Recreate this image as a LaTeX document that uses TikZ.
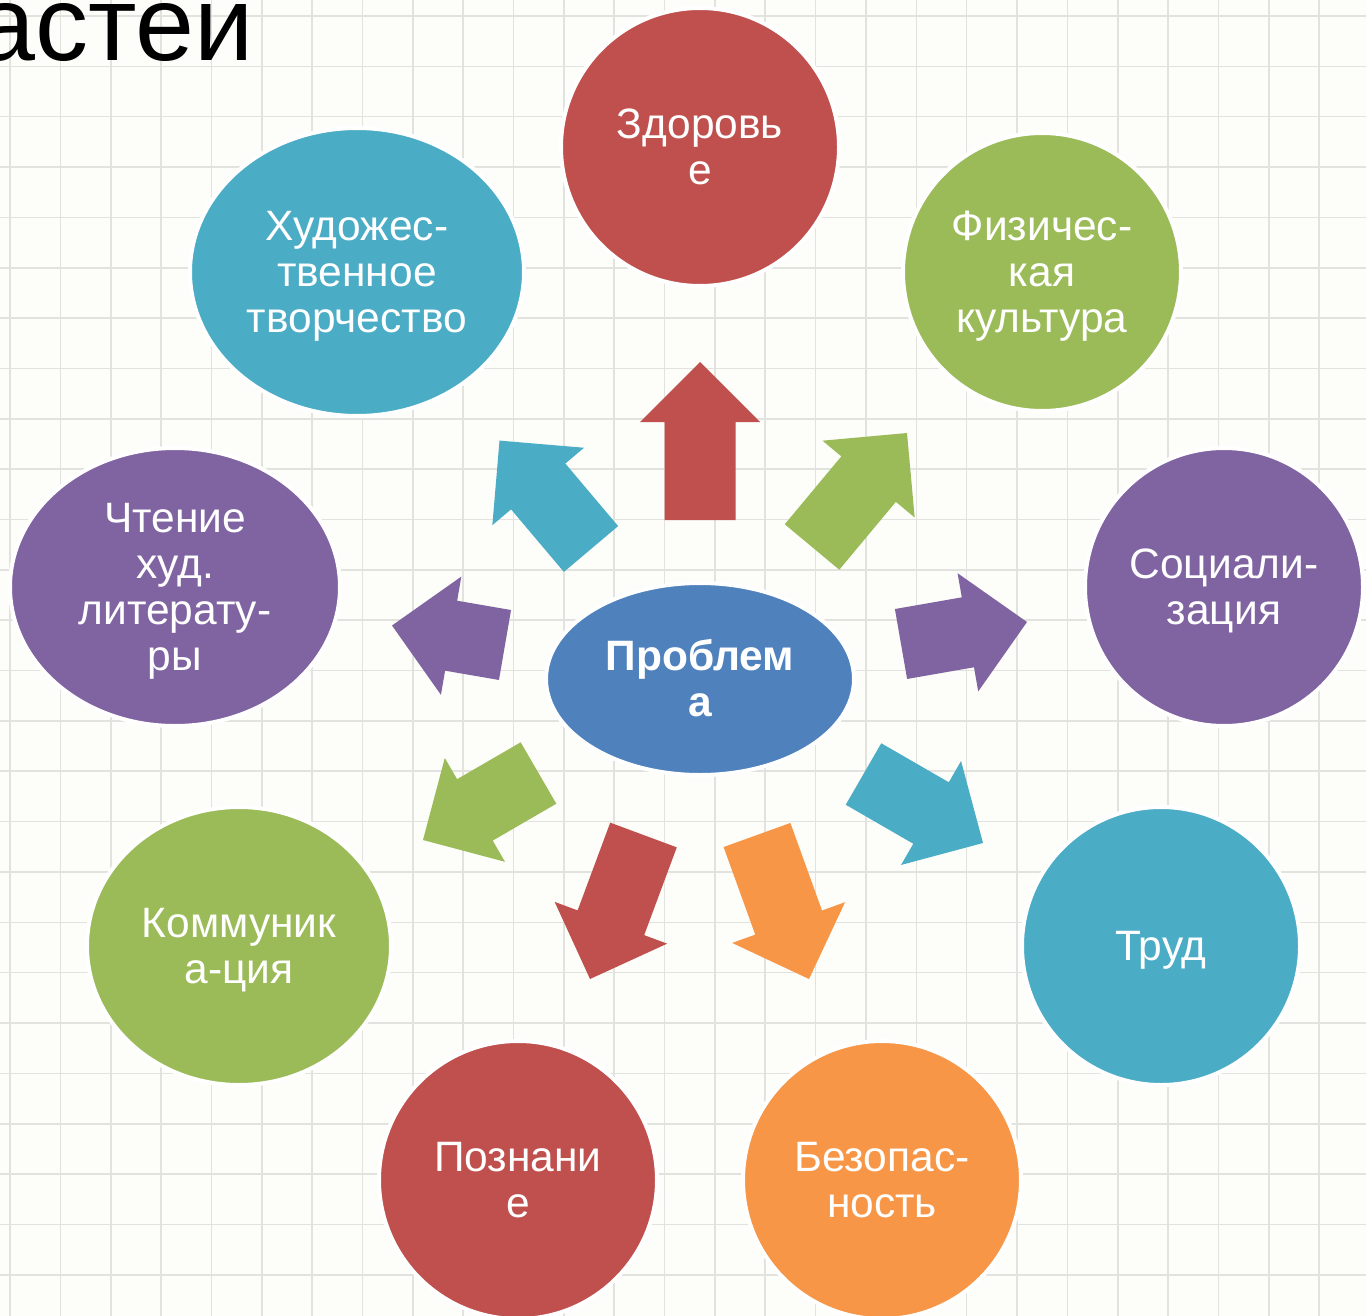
\documentclass[tikz,border=0pt]{standalone}
\usepackage{fontspec}
\setmainfont{Liberation Sans}
\usetikzlibrary{shapes.geometric,calc}
\definecolor{cred}{HTML}{C0504D}
\definecolor{cgreen}{HTML}{9BBB59}
\definecolor{cblue}{HTML}{4BACC6}
\definecolor{cpurple}{HTML}{8064A2}
\definecolor{corange}{HTML}{F79646}
\definecolor{ccenter}{HTML}{4F81BD}
\definecolor{bgcol}{HTML}{FDFDF9}
\definecolor{gridcol}{HTML}{E2E2DE}
\newcommand\mytop{\rule{0pt}{0.905em}}
\newcommand\mybot{\rule[-0.212em]{0pt}{0pt}}
\newcommand\blockarr[3]{%
  \coordinate (ab) at ($(#3)!60pt!(#2)$);
  \fill[#1] ($(#2)!35.5pt!90:(#3)$) -- ($(ab)!35.5pt!90:(#3)$) -- ($(ab)!60pt!90:(#3)$) -- (#3)
    -- ($(ab)!60pt!-90:(#3)$) -- ($(ab)!35.5pt!-90:(#3)$) -- ($(#2)!35.5pt!-90:(#3)$) -- cycle;
}
\begin{document}
\begin{tikzpicture}[x=1pt,y=-1pt,
  bubble/.style={ellipse, draw=white, line width=4pt, text=white, inner sep=0pt, align=center,
    font=\fontsize{42.5}{46}\selectfont},
  gridline/.style={draw=gridcol, line width=1.6pt}]
\useasboundingbox (0,0) rectangle (1366,1316);
\clip (0,0) rectangle (1366,1316);
\fill[bgcol] (0,0) rectangle (1366,1316);
\foreach \i in {0,...,27} \draw[gridline] ({10+50.35*\i},0) -- ({10+50.35*\i},1316);
\foreach \j in {0,...,26} \draw[gridline] (0,{16+50.35*\j}) -- (1366,{16+50.35*\j});
\node[anchor=base east, inner sep=0pt, font=\fontsize{106}{110}\selectfont] (title) at (254,61) {астеи};
% arrows
\coordinate (a1t) at (700,520);   \coordinate (a1p) at (700,362);
\coordinate (a2t) at (812,547);   \coordinate (a2p) at (907,433);
\coordinate (a3t) at (591,549);   \coordinate (a3p) at (499.5,440.6);
\coordinate (a4t) at (505,645);   \coordinate (a4p) at (392,625.5);
\coordinate (a5t) at (901,644);   \coordinate (a5p) at (1027,622);
\coordinate (a6t) at (538.5,773); \coordinate (a6p) at (423,840);
\coordinate (a7t) at (863.5,774); \coordinate (a7p) at (983,843);
\coordinate (a8t) at (643.5,835); \coordinate (a8p) at (590,979);
\coordinate (a9t) at (757,835);   \coordinate (a9p) at (809,979);
\blockarr{cred}{a1t}{a1p}
\blockarr{cgreen}{a2t}{a2p}
\blockarr{cblue}{a3t}{a3p}
\blockarr{cpurple}{a4t}{a4p}
\blockarr{cpurple}{a5t}{a5p}
\blockarr{cgreen}{a6t}{a6p}
\blockarr{cblue}{a7t}{a7p}
\blockarr{cred}{a8t}{a8p}
\blockarr{corange}{a9t}{a9p}
% bubbles
\node[bubble, fill=cred, minimum width=278, minimum height=278] (zdor) at (700,147) {\mytop Здоровь\\е\mybot};
\node[bubble, fill=cgreen, minimum width=278, minimum height=278] (fiz) at (1042,272) {\mytop Физичес-\\кая\\культура\mybot};
\node[bubble, fill=cblue, minimum width=334, minimum height=288] (hud) at (357,272) {\mytop Художес-\\твенное\\творчество\mybot};
\node[bubble, fill=cpurple, minimum width=330, minimum height=278] (cht) at (175,587) {\mytop Чтение\\худ.\\литерату-\\ры\mybot};
\node[bubble, fill=cpurple, minimum width=278, minimum height=278] (soc) at (1224,587) {\mytop Социали-\\зация\mybot};
\node[bubble, fill=cgreen, minimum width=304, minimum height=278] (kom) at (239,946) {\mytop Коммуник\\а-ция\mybot};
\node[bubble, fill=cblue, minimum width=278, minimum height=278] (trud) at (1161,946) {\mytop Труд\mybot};
\node[bubble, fill=cred, minimum width=278, minimum height=278] (pozn) at (518,1180) {\mytop Познани\\е\mybot};
\node[bubble, fill=corange, minimum width=278, minimum height=278] (bez) at (882,1180) {\mytop Безопас-\\ность\mybot};
\node[bubble, fill=ccenter, minimum width=308, minimum height=192, font=\bfseries\fontsize{42.5}{46}\selectfont] (prob) at (700,679) {\mytop Проблем\\а\mybot};
\end{tikzpicture}
\end{document}
